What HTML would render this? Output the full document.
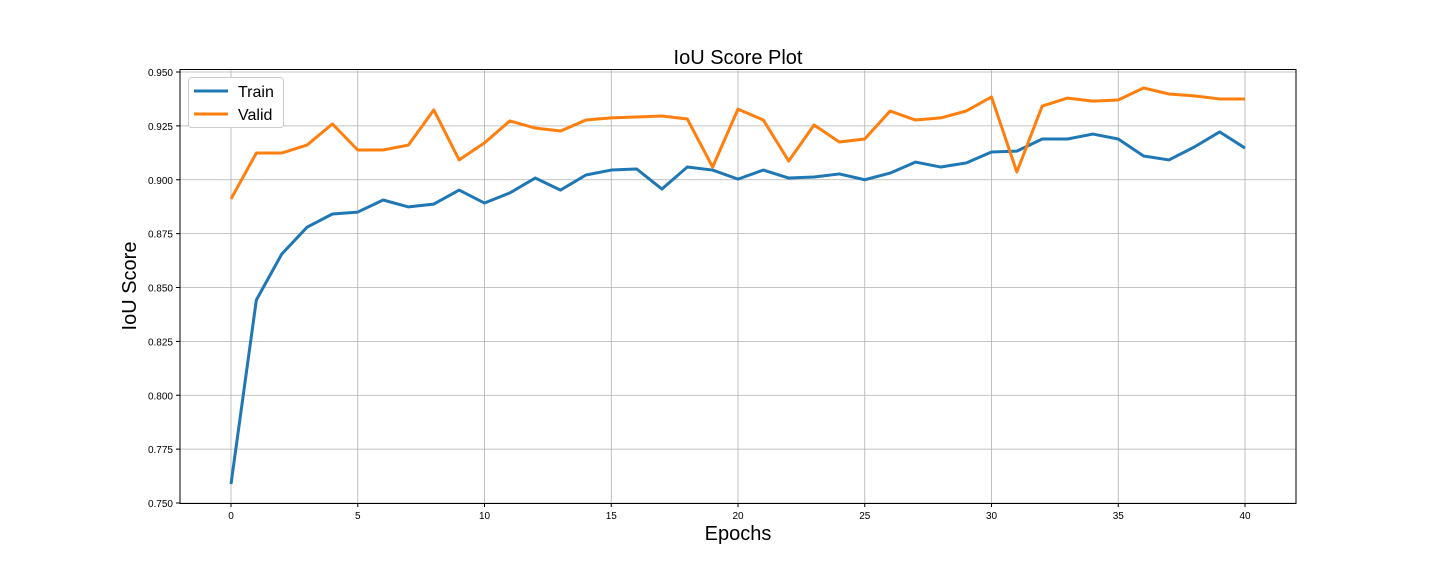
<!DOCTYPE html>
<html><head><meta charset="utf-8"><style>
body{margin:0;background:#fff;}
svg{display:block;font-family:"Liberation Sans","DejaVu Sans",sans-serif;}
</style></head><body>
<svg id="chart" width="1440" height="576">
<text x="738" y="64" font-size="20" text-anchor="middle">IoU Score Plot</text>
<text x="738" y="540" font-size="20" text-anchor="middle">Epochs</text>
<text transform="translate(136,286) rotate(-90)" font-size="20" text-anchor="middle">IoU Score</text>
<g id="grid"></g><g id="ticks"></g><g id="lines"></g>
<rect x="180" y="69.5" width="1116" height="434" fill="none" stroke="#000" stroke-width="1"/>
<g>
<rect x="188.5" y="77.5" width="95" height="50" rx="3" fill="#fff" stroke="#ccc"/>
<line x1="194" y1="91" x2="228" y2="91" stroke="#1f77b4" stroke-width="3"/>
<text x="238" y="97" font-size="16">Train</text>
<line x1="194" y1="114" x2="228" y2="114" stroke="#ff7f0e" stroke-width="3"/>
<text x="238" y="120" font-size="16">Valid</text>
</g>
</svg>
<script>
const epochs=[...Array(41).keys()];
const trainVals=[0.7588,0.8442,0.8655,0.878,0.8841,0.885,0.8906,0.8874,0.8887,0.8952,0.8892,0.8939,0.9008,0.8952,0.9022,0.9045,0.905,0.8957,0.9059,0.9045,0.9003,0.9045,0.9008,0.9013,0.9027,0.9,0.9031,0.9082,0.9059,0.9078,0.9129,0.9133,0.9189,0.9189,0.9212,0.9189,0.911,0.9092,0.9152,0.9222,0.9147];
const validVals=[0.8911,0.9124,0.9124,0.9161,0.9259,0.9138,0.9138,0.9161,0.9324,0.9092,0.9171,0.9273,0.924,0.9226,0.9277,0.9287,0.9291,0.9296,0.9282,0.9059,0.9328,0.9277,0.9087,0.9254,0.9175,0.9189,0.9319,0.9277,0.9287,0.9319,0.9384,0.9036,0.9342,0.9379,0.9365,0.937,0.9426,0.9398,0.9389,0.9375,0.9375];
const xTicks=[0,5,10,15,20,25,30,35,40];
const yTicks=[0.75,0.775,0.8,0.825,0.85,0.875,0.9,0.925,0.95];
const NS="http://www.w3.org/2000/svg";
const xs=v=>231+v*(1245-231)/40;
const ys=v=>503-(v-0.75)*2155;
function mk(t,a,p){const e=document.createElementNS(NS,t);for(const k in a)e.setAttribute(k,a[k]);p.appendChild(e);return e;}
const g=document.getElementById('grid'),tk=document.getElementById('ticks'),ln=document.getElementById('lines');
xTicks.forEach(v=>{const x=xs(v);
const l=mk('line',{x1:x,x2:x,y1:69.5,y2:503.5,stroke:'#b0b0b0','stroke-width':0.8},g);


mk('line',{x1:x,x2:x,y1:503.5,y2:507,stroke:'#000'},tk);
const t=mk('text',{x:x,y:519,'font-size':10,'text-anchor':'middle'},tk);t.textContent=v;

});
yTicks.forEach(v=>{const y=ys(v);
const l=mk('line',{x1:180,x2:1296,y1:y,y2:y,stroke:'#b0b0b0','stroke-width':0.8},g);


mk('line',{x1:176,x2:180,y1:y,y2:y,stroke:'#000'},tk);
const t=mk('text',{x:173,y:y+4,'font-size':10,'text-anchor':'end'},tk);t.textContent=v.toFixed(3);

});
[[trainVals,'#1f77b4','train-line'],[validVals,'#ff7f0e','valid-line']].forEach(([d,c,n])=>{
const p=mk('polyline',{points:d.map((v,i)=>xs(epochs[i])+','+ys(v)).join(' '),fill:'none',stroke:c,'stroke-width':3,'stroke-linejoin':'round'},ln);

});
</script>
</body></html>
